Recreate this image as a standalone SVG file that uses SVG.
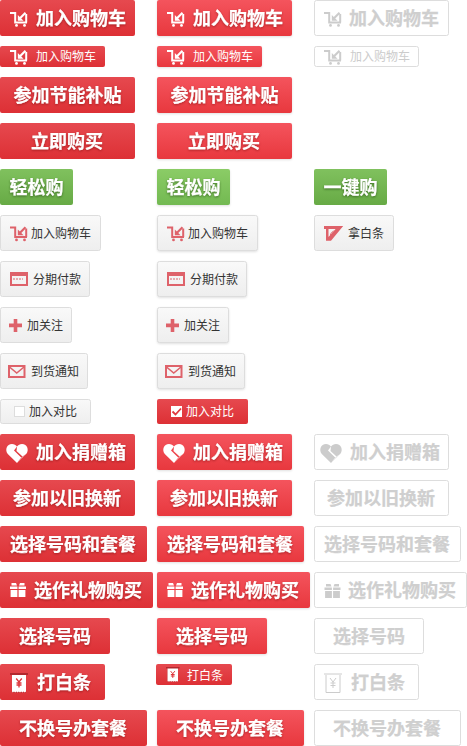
<svg xmlns="http://www.w3.org/2000/svg" width="467" height="746" viewBox="0 0 467 746">
<style>
text{font-family:"Noto Sans CJK SC","Noto Sans",sans-serif}
.b{font-size:18px;font-weight:700;fill:#fff;stroke:#fff;stroke-width:.25;filter:drop-shadow(0 1px 1px rgba(90,0,0,.4))}
.g{filter:drop-shadow(0 1px 1px rgba(30,70,10,.6))}
.d{font-size:18px;font-weight:700;fill:#cfcfcf;stroke:#cfcfcf;stroke-width:.25}
.s{font-size:12px;fill:#fff}
.sd{font-size:12px;fill:#ccc}
.t{font-size:12px;fill:#333}
.m{text-anchor:middle}
.r1{fill:url(#red1)}
.r2{fill:url(#red2);filter:drop-shadow(0 1px 1px rgba(0,0,0,.12))}
.g1{fill:url(#grn1)}
.g2{fill:url(#grn2);filter:drop-shadow(0 1px 1px rgba(0,0,0,.12))}
.gy{fill:url(#gry);stroke:#ddd}
.gs{fill:url(#gry);stroke:#ddd;filter:drop-shadow(0 1px 1px rgba(0,0,0,.12))}
.off{fill:#fff;stroke:#ddd}
.w{color:#fff}
.p{color:#de626a}
.o{color:#ccc}
</style>
<defs>
<linearGradient id="red1" x1="0" y1="0" x2="0" y2="1"><stop offset="0" stop-color="#e6494f"/><stop offset="1" stop-color="#dd3035"/></linearGradient>
<linearGradient id="red2" x1="0" y1="0" x2="0" y2="1"><stop offset="0" stop-color="#f4545d"/><stop offset="1" stop-color="#e8383e"/></linearGradient>
<linearGradient id="grn1" x1="0" y1="0" x2="0" y2="1"><stop offset="0" stop-color="#80c15e"/><stop offset="1" stop-color="#67aa45"/></linearGradient>
<linearGradient id="grn2" x1="0" y1="0" x2="0" y2="1"><stop offset="0" stop-color="#8bcc66"/><stop offset="1" stop-color="#73b952"/></linearGradient>
<linearGradient id="gry" x1="0" y1="0" x2="0" y2="1"><stop offset="0" stop-color="#f9f9f9"/><stop offset="1" stop-color="#eeeeee"/></linearGradient>
<g id="cart"><path d="M0 1H5.200V10.600H17M16.200 2V10.600" fill="none" stroke="currentColor" stroke-width="2"/><path d="M15.500 .8L10 6.300" fill="none" stroke="currentColor" stroke-width="2.200"/><path d="M7.800 3V8.800H13.600Z" fill="currentColor"/><circle cx="6.500" cy="13.400" r="1.400" fill="currentColor"/><circle cx="14.500" cy="13.400" r="1.400" fill="currentColor"/></g>
<g id="heart"><path d="M11 20L1.800 11C-1.400 7 .8 1 6 1C8.200 1 9.800 2 11 3.600L8 7.500L15.200 14.600Z" fill="currentColor"/><path d="M11 3.600C12.200 2 13.800 1 16 1C21.200 1 23.400 7 20.200 11L16.500 13.600L10.500 8Z" fill="currentColor"/><path d="M11 20L15.200 14.600L16.500 13.600L20.200 11Z" fill="currentColor" fill-opacity=".55"/></g>
<g id="gift"><path d="M1.500 0H6L7 2.500H1.500ZM9 2.500L10 0H14.500V2.500Z M0 3.500H7.400V6H0ZM8.600 3.500H16V6H8.600ZM.6 7H7.400V14H.6ZM8.600 7H15.400V14H8.600Z" fill="currentColor"/></g>
<g id="rc"><path d="M0 0H18V2H16V18H2V2H0Z" fill="#b2282e"/><path d="M2 2H16V20H2Z" fill="#b2282e" fill-opacity=".5"/><path d="M2 2H16V18.500L14.800 19.500L13.600 18.500L12.400 19.500L11.200 18.500L10 19.500L8.800 18.500L7.600 19.500L6.400 18.500L5.200 19.500L4 18.500L2.800 19.500L2 18.500Z" fill="#fff"/><path d="M6.200 5.500L9 9L11.800 5.500M9 9V14.500M6.500 10H11.500M6.500 12H11.500" fill="none" stroke="#dd3238" stroke-width="1.300"/></g>
</defs>

<g id="connectors"/>

<g id="cart-a"><rect class="r1" x="0" y="0" width="135" height="36" rx="2"/><use href="#cart" class="w" x="10" y="12"/><text class="b" x="36" y="24.500">加入购物车</text></g>
<g id="cart-b"><rect class="r2" x="157" y="0" width="135" height="36" rx="2"/><use href="#cart" class="w" x="167" y="12"/><text class="b" x="193" y="24.500">加入购物车</text></g>
<g id="cart-c"><rect class="off" x="314.500" y=".5" width="134" height="35" rx="2"/><use href="#cart" class="o" x="324" y="12"/><text class="d" x="349" y="24.500">加入购物车</text></g>

<g id="cart-small-a"><rect class="r1" x="0" y="46" width="105" height="21" rx="2"/><use href="#cart" class="w" x="10" y="50"/><text class="s" x="36" y="61">加入购物车</text></g>
<g id="cart-small-b"><rect class="r2" x="157" y="46" width="105" height="21" rx="2"/><use href="#cart" class="w" x="167" y="50"/><text class="s" x="193" y="61">加入购物车</text></g>
<g id="cart-small-c"><rect class="off" x="314.500" y="46.500" width="104" height="20" rx="2"/><use href="#cart" class="o" x="324" y="50"/><text class="sd" x="350" y="61">加入购物车</text></g>

<g id="energy-a"><rect class="r1" x="0" y="77" width="135" height="36" rx="2"/><text class="b m" x="67.500" y="101.500">参加节能补贴</text></g>
<g id="energy-b"><rect class="r2" x="157" y="77" width="135" height="36" rx="2"/><text class="b m" x="224.500" y="101.500">参加节能补贴</text></g>

<g id="buy-a"><rect class="r1" x="0" y="123" width="135" height="36" rx="2"/><text class="b m" x="67" y="147.500">立即购买</text></g>
<g id="buy-b"><rect class="r2" x="157" y="123" width="135" height="36" rx="2"/><text class="b m" x="224" y="147.500">立即购买</text></g>

<g id="easy-a"><rect class="g1" x="0" y="169" width="73" height="36" rx="2"/><text class="b g m" x="36.500" y="193.500">轻松购</text></g>
<g id="easy-b"><rect class="g2" x="157" y="169" width="73" height="36" rx="2"/><text class="b g m" x="193.500" y="193.500">轻松购</text></g>
<g id="onekey"><rect class="g1" x="314" y="169" width="73" height="36" rx="2"/><text class="b g m" x="350.500" y="193.500">一键购</text></g>

<g id="gcart-a"><rect class="gy" x=".5" y="215.500" width="100" height="35" rx="2"/><use href="#cart" class="p" x="10" y="226.500"/><text class="t" x="31" y="237.500">加入购物车</text></g>
<g id="gcart-b"><rect class="gs" x="157.500" y="215.500" width="100" height="35" rx="2"/><use href="#cart" class="p" x="167" y="226.500"/><text class="t" x="188" y="237.500">加入购物车</text></g>
<g id="ticket"><rect class="gy" x="314.500" y="215.500" width="79" height="35" rx="2"/><path d="M324 226H343.200L331 240.700H326V229H324Z M328.500 229V237L335.600 229Z" fill="#de626a" fill-rule="evenodd"/><path d="M333.500 231L330.500 233.800L331 236" fill="none" stroke="#de626a"/><text class="t" x="348" y="237.500">拿白条</text></g>

<g id="install-a"><rect class="gy" x=".5" y="261.500" width="89" height="35" rx="2"/><rect x="11" y="273" width="16" height="12" fill="none" stroke="#de626a" stroke-width="2"/><path d="M11 275H27" stroke="#de626a" stroke-width="2"/><path d="M13 279H23" stroke="#de626a" stroke-dasharray="2 1"/><text class="t" x="33" y="283.500">分期付款</text></g>
<g id="install-b"><rect class="gs" x="157.500" y="261.500" width="89" height="35" rx="2"/><rect x="168" y="273" width="16" height="12" fill="none" stroke="#de626a" stroke-width="2"/><path d="M168 275H184" stroke="#de626a" stroke-width="2"/><path d="M170 279H180" stroke="#de626a" stroke-dasharray="2 1"/><text class="t" x="190" y="283.500">分期付款</text></g>

<g id="follow-a"><rect class="gy" x=".5" y="307.500" width="71" height="35" rx="2"/><path d="M13.700 319H17.300V323.600H22V327.200H17.300V332H13.700V327.200H9V323.600H13.700Z" fill="#de626a"/><text class="t" x="27" y="329.500">加关注</text></g>
<g id="follow-b"><rect class="gs" x="157.500" y="307.500" width="71" height="35" rx="2"/><path d="M170.700 319H174.300V323.600H179V327.200H174.300V332H170.700V327.200H166V323.600H170.700Z" fill="#de626a"/><text class="t" x="184" y="329.500">加关注</text></g>

<g id="notify-a"><rect class="gy" x=".5" y="353.500" width="87" height="35" rx="2"/><rect x="9" y="366" width="15.500" height="11" fill="none" stroke="#de626a" stroke-width="2"/><path d="M9.500 367L16.750 373L24 367" fill="none" stroke="#de626a" stroke-width="1.600"/><text class="t" x="31" y="375.500">到货通知</text></g>
<g id="notify-b"><rect class="gs" x="157.500" y="353.500" width="87" height="35" rx="2"/><rect x="166" y="366" width="15.500" height="11" fill="none" stroke="#de626a" stroke-width="2"/><path d="M166.500 367L173.750 373L181 367" fill="none" stroke="#de626a" stroke-width="1.600"/><text class="t" x="188" y="375.500">到货通知</text></g>

<g id="compare-a"><rect class="gy" x=".5" y="399.500" width="90" height="24" rx="2"/><rect x="14.500" y="406.500" width="10" height="10" fill="#fff" stroke="#ddd"/><text class="t" x="29" y="416">加入对比</text></g>
<g id="compare-b"><rect class="r1" x="157" y="399" width="91" height="25" rx="2"/><rect x="171" y="406" width="11" height="11" fill="#fff"/><path d="M172.500 411.500L175.500 414.500L181 408.500" fill="none" stroke="#e0383e" stroke-width="1.800"/><text class="s" x="186" y="416">加入对比</text></g>

<g id="donate-a"><rect class="r1" x="0" y="434" width="135" height="36" rx="2"/><use href="#heart" class="w" x="6" y="443"/><text class="b" x="36" y="458.500">加入捐赠箱</text></g>
<g id="donate-b"><rect class="r2" x="157" y="434" width="135" height="36" rx="2"/><use href="#heart" class="w" x="163" y="443"/><text class="b" x="193" y="458.500">加入捐赠箱</text></g>
<g id="donate-c"><rect class="off" x="314.500" y="434.500" width="134" height="35" rx="2"/><use href="#heart" class="o" x="320" y="443"/><text class="d" x="350" y="458.500">加入捐赠箱</text></g>

<g id="trade-a"><rect class="r1" x="0" y="480" width="135" height="36" rx="2"/><text class="b m" x="67" y="504.500">参加以旧换新</text></g>
<g id="trade-b"><rect class="r2" x="157" y="480" width="135" height="36" rx="2"/><text class="b m" x="224" y="504.500">参加以旧换新</text></g>
<g id="trade-c"><rect class="off" x="314.500" y="480.500" width="134" height="35" rx="2"/><text class="d m" x="381" y="504.500">参加以旧换新</text></g>

<g id="plan-a"><rect class="r1" x="0" y="526" width="147" height="36" rx="2"/><text class="b m" x="73" y="550.500">选择号码和套餐</text></g>
<g id="plan-b"><rect class="r2" x="157" y="526" width="147" height="36" rx="2"/><text class="b m" x="230" y="550.500">选择号码和套餐</text></g>
<g id="plan-c"><rect class="off" x="314.500" y="526.500" width="146" height="35" rx="2"/><text class="d m" x="387" y="550.500">选择号码和套餐</text></g>

<g id="gift-a"><rect class="r1" x="0" y="572" width="153" height="36" rx="2"/><use href="#gift" class="w" x="10" y="583"/><text class="b" x="34" y="596.500">选作礼物购买</text></g>
<g id="gift-b"><rect class="r2" x="157" y="572" width="153" height="36" rx="2"/><use href="#gift" class="w" x="167" y="583"/><text class="b" x="191" y="596.500">选作礼物购买</text></g>
<g id="gift-c"><rect class="off" x="314.500" y="572.500" width="152" height="35" rx="2"/><use href="#gift" class="o" x="324.500" y="584"/><text class="d" x="348" y="596.500">选作礼物购买</text></g>

<g id="number-a"><rect class="r1" x="0" y="618" width="110" height="36" rx="2"/><text class="b m" x="55" y="642.500">选择号码</text></g>
<g id="number-b"><rect class="r2" x="157" y="618" width="110" height="36" rx="2"/><text class="b m" x="212" y="642.500">选择号码</text></g>
<g id="number-c"><rect class="off" x="314.500" y="618.500" width="109" height="35" rx="2"/><text class="d m" x="369" y="642.500">选择号码</text></g>

<g id="receipt-a"><rect class="r1" x="0" y="664" width="105" height="36" rx="2"/><use href="#rc" x="10" y="673"/><text class="b" x="37" y="688.500">打白条</text></g>
<g id="receipt-b"><rect class="r1" x="156" y="664" width="76" height="21" rx="2"/><use href="#rc" transform="translate(166 667) scale(.75)"/><text class="s" x="187" y="680">打白条</text></g>
<g id="receipt-c"><rect class="off" x="314.500" y="664.500" width="104" height="35" rx="2"/><path d="M324 674H342M326 675V692.500H340V675" fill="none" stroke="#ccc"/><path d="M330 678L333 682L336 678M333 682V688M330.500 683H335.500M330.500 685.500H335.500" fill="none" stroke="#ccc"/><text class="d" x="351" y="688.500">打白条</text></g>

<g id="keep-a"><rect class="r1" x="0" y="710" width="147" height="36" rx="2"/><text class="b m" x="73" y="734.500">不换号办套餐</text></g>
<g id="keep-b"><rect class="r2" x="157" y="710" width="147" height="36" rx="2"/><text class="b m" x="230" y="734.500">不换号办套餐</text></g>
<g id="keep-c"><rect class="off" x="314.500" y="710.500" width="146" height="35" rx="2"/><text class="d m" x="387" y="734.500">不换号办套餐</text></g>
</svg>
